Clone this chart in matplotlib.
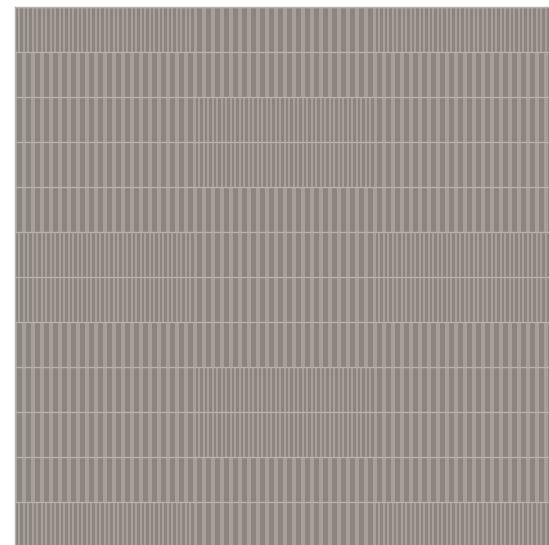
"""Striped block grid: 12 rows x 3 columns, each block split into equal slices."""
import matplotlib
matplotlib.use('Agg')
import matplotlib.pyplot as plt

# number of slices in each block, top row first
slices_left = [40, 20, 20, 20, 20, 40, 40, 20, 20, 20, 20, 40]
slices_middle = [20, 20, 40, 40, 20, 20, 20, 20, 40, 40, 20, 20]
slices_right = [40, 20, 20, 20, 20, 40, 40, 20, 20, 20, 20, 40]

DARK = '#8d8480'
LIGHT = '#a79f9a'
LINE = '#b9b1ac'

W, H = 549, 545
fig = plt.figure(figsize=(W / 100, H / 100), dpi=100)
fig.patch.set_facecolor('white')
# 3 columns of 180 px, 12 rows of 45 px, starting at (15, 7)
ax = fig.add_axes([15 / W, (H - 7 - 540) / H, 540 / W, 540 / H])
ax.set_facecolor(LIGHT)

n_rows = len(slices_left)
for col, counts in enumerate([slices_left, slices_middle, slices_right]):
    for row, n in enumerate(counts):
        step = 1.0 / n
        lefts = [col + k * step + 0.2 * step for k in range(n)]
        ax.bar(lefts, [1] * n, width=0.56 * step, bottom=row, align='edge',
               color=DARK, linewidth=0)

for row in range(n_rows + 1):
    ax.axhline(row, color=LINE, linewidth=1.0)

ax.set_xlim(0, 3)
ax.set_ylim(n_rows, 0)
ax.set_xticks([])
ax.set_yticks([])
for s in ['right', 'bottom']:
    ax.spines[s].set_visible(False)
for s in ['top', 'left']:
    ax.spines[s].set_color(LINE)
    ax.spines[s].set_linewidth(1.0)

fig.savefig('out.png', dpi=100)
plt.close()
